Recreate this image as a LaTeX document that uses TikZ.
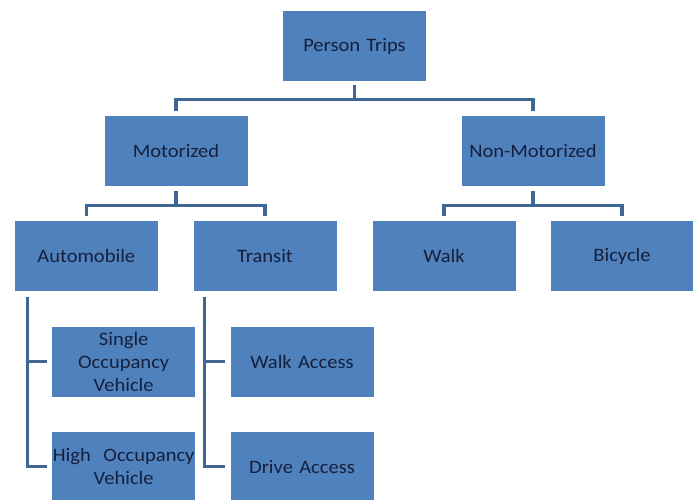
\documentclass[tikz,border=0pt]{standalone}
\usepackage{fontspec}
\setmainfont{Carlito}[FakeStretch=1.08]
\definecolor{boxblue}{RGB}{79,129,189}
\definecolor{lineblue}{RGB}{62,103,150}
\definecolor{txt}{RGB}{22,32,60}
\tikzset{
  box/.style={draw=none, fill=boxblue, minimum width=143pt, minimum height=70pt,
    inner sep=0pt, text width=143pt, align=center, text=txt,
    font=\fontsize{19}{23}\selectfont},
  conn/.style={draw=lineblue, line width=3.2pt, line join=miter, line cap=butt}
}
\begin{document}
\begin{tikzpicture}[x=1pt,y=-1pt]
\useasboundingbox (0,0) rectangle (693,499);
\node[box] (pt) at (354.5,46) {Person Trips};
\node[box] (mot) at (176,151.2) {Motorized};
\node[box] (nonmot) at (533,151.2) {Non-Motorized};
\node[box] (auto) at (86.3,256.3) {Automobile};
\node[box] (transit) at (265,256.3) {Transit};
\node[box] (walk) at (444,256.3) {Walk};
\node[box] (bike) at (622,256.3) {Bicycle};
\node[box] (sov) at (123.7,361.7) {Single\\Occupancy\\Vehicle};
\node[box] (hov) at (123.7,466.7) {High\ \ Occupancy\\Vehicle};
\node[box] (wacc) at (302,361.7) {Walk Access};
\node[box] (dacc) at (302,466.7) {Drive Access};

% Person Trips -> Motorized / Non-Motorized
\draw[conn] ([yshift=-4pt]pt.south) -- ([yshift=-18pt]pt.south);
\draw[conn] ([yshift=5pt]mot.north) |- ([yshift=-18pt]pt.south) -| ([yshift=5pt]nonmot.north);
% Motorized -> Automobile / Transit
\draw[conn] ([yshift=-4.5pt]mot.south) -- ([yshift=-19pt]mot.south);
\draw[conn] ([yshift=5pt]auto.north) |- ([yshift=-19pt]mot.south) -| ([yshift=5pt]transit.north);
% Non-Motorized -> Walk / Bicycle
\draw[conn] ([yshift=-4.5pt]nonmot.south) -- ([yshift=-19pt]nonmot.south);
\draw[conn] ([yshift=5pt]walk.north) |- ([yshift=-19pt]nonmot.south) -| ([yshift=5pt]bike.north);
% Automobile -> SOV / HOV
\coordinate (av) at ([xshift=13pt,yshift=-5pt]auto.south west);
\draw[conn] (av) |- ([xshift=-5pt]hov.west);
\draw[conn] ([xshift=-5pt]sov.west) -- (sov.west -| av);
% Transit -> Walk Access / Drive Access
\coordinate (tv) at ([xshift=11.5pt,yshift=-5pt]transit.south west);
\draw[conn] (tv) |- ([xshift=-5pt]dacc.west);
\draw[conn] ([xshift=-5pt]wacc.west) -- (wacc.west -| tv);
\end{tikzpicture}
\end{document}
